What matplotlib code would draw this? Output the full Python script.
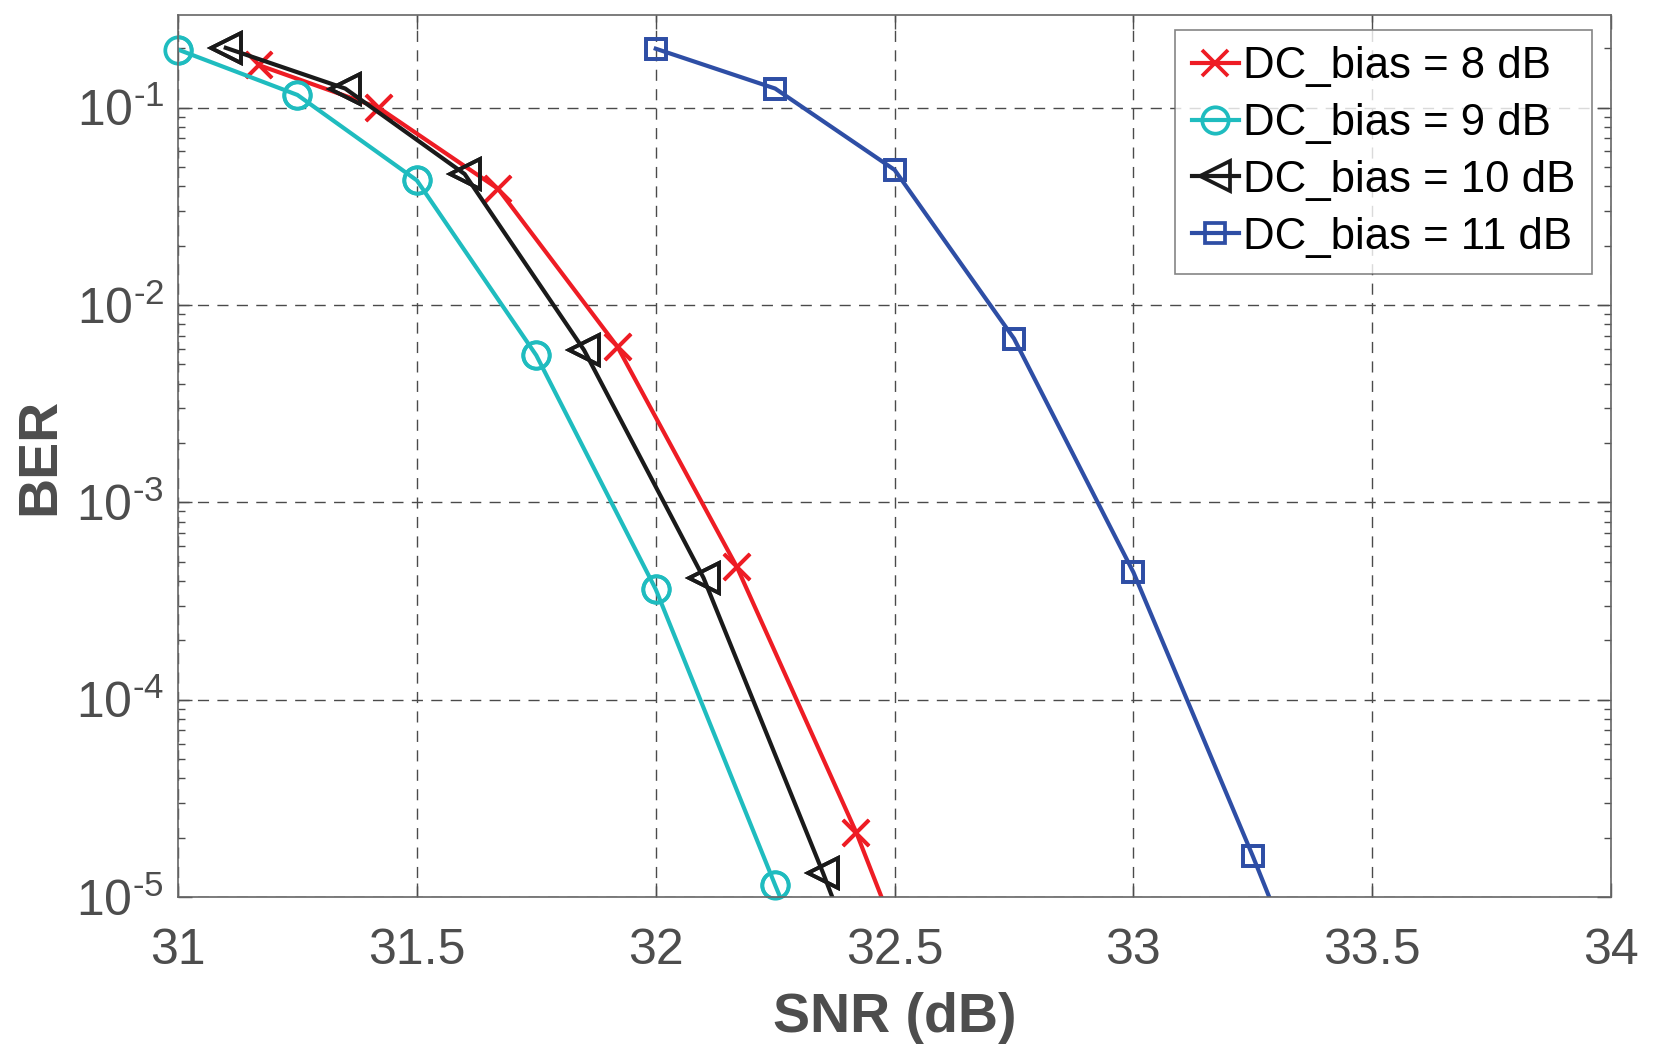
import matplotlib
matplotlib.use('Agg')
import matplotlib.pyplot as plt
import numpy as np
from matplotlib.ticker import LogLocator, NullFormatter, FuncFormatter

plt.rcParams['font.family'] = ['Liberation Sans', 'DejaVu Sans']
plt.rcParams['mathtext.fontset'] = 'custom'
plt.rcParams['mathtext.rm'] = 'Liberation Sans'
plt.rcParams['mathtext.it'] = 'Liberation Sans'
plt.rcParams['mathtext.bf'] = 'Liberation Sans:bold'

# data
snr_8 = [31.17, 31.42, 31.67, 31.92, 32.17, 32.42, 32.67]
ber_8 = [0.164, 0.10, 0.0388, 0.00614, 4.7e-4, 2.12e-5, 6e-7]
snr_9 = [31.0, 31.25, 31.5, 31.75, 32.0, 32.25, 32.5]
ber_9 = [0.197, 0.116, 0.0428, 0.00556, 3.63e-4, 1.15e-5, 4e-7]
snr_10 = [31.1, 31.35, 31.6, 31.85, 32.1, 32.35, 32.6]
ber_10 = [0.201, 0.125, 0.0461, 0.00591, 4.15e-4, 1.33e-5, 3.5e-7]
snr_11 = [32.0, 32.25, 32.5, 32.75, 33.0, 33.25, 33.5]
ber_11 = [0.199, 0.125, 0.0484, 0.00676, 4.42e-4, 1.61e-5, 5e-7]

labels = ['DC_bias = 8 dB', 'DC_bias = 9 dB', 'DC_bias = 10 dB', 'DC_bias = 11 dB']
xticks = [31, 31.5, 32, 32.5, 33, 33.5, 34]
xticklabels = ['31', '31.5', '32', '32.5', '33', '33.5', '34']
ymin, ymax = 1e-5, 0.295

fig = plt.figure(figsize=(16.53, 10.53), dpi=100)
ax = fig.add_axes([0.1077, 0.148, 0.867, 0.8378])

series = [
    (snr_8, ber_8, '#ee1c24', 'x', 19, labels[0]),
    (snr_9, ber_9, '#1fbcbf', 'o', 19, labels[1]),
    (snr_10, ber_10, '#1a1a1a', '<', 21, labels[2]),
    (snr_11, ber_11, '#2e4ea5', 's', 15, labels[3]),
]
for x, y, c, m, ms, lab in series:
    ax.semilogy(x, y, color=c, lw=3.0, marker=m, ms=ms, mew=2.7,
                mfc='none', label=lab)
    # markers inside the limits are drawn whole, like matlab
    xi = [a for a, b in zip(x, y) if ymin <= b <= ymax]
    yi = [b for b in y if ymin <= b <= ymax]
    ax.plot(xi, yi, ls='none', color=c, marker=m, ms=ms, mew=2.7,
            mfc='none', clip_on=False)

ax.set_xlim(31, 34)
ax.set_ylim(ymin, ymax)
ax.set_xticks(xticks)
ax.set_xticklabels(xticklabels)
ax.yaxis.set_major_locator(LogLocator(base=10, numticks=10))
ax.yaxis.set_minor_locator(LogLocator(base=10, subs=np.arange(2, 10), numticks=20))
ax.yaxis.set_minor_formatter(NullFormatter())
# matlab style exponent with a short hyphen
ax.yaxis.set_major_formatter(FuncFormatter(
    lambda v, p: '$\\mathregular{10^{\u2010%d}}$' % round(-np.log10(v))))

ax.grid(True, which='major', color='#4a4a4a', ls=(0, (8, 6)), lw=1.0)
ax.tick_params(which='both', direction='in', top=True, right=True,
               colors='#4d4d4d', labelcolor='#4d4d4d')
ax.tick_params(which='major', length=10, width=1, labelsize=36)
ax.tick_params(axis='x', which='major', pad=22)
ax.tick_params(axis='y', which='major', pad=10)
ax.tick_params(which='minor', length=5, width=1)
for s in ax.spines.values():
    s.set_color('#666666')
    s.set_linewidth(1.2)

ax.set_xlabel('SNR (dB)', fontsize=40, fontweight='bold', color='#4d4d4d', labelpad=13)
ax.set_ylabel('BER', fontsize=40, fontweight='bold', color='#4d4d4d', labelpad=7)

leg = ax.legend(loc='upper right', fontsize=31.5, frameon=True, fancybox=False,
                edgecolor='#666666', handlelength=1.08, handletextpad=0.1,
                borderpad=0.38, labelspacing=0.36, borderaxespad=0,
                bbox_to_anchor=(0.9868, 0.9833))
leg.get_frame().set_linewidth(1.2)

fig.savefig('out.png', dpi=100)
